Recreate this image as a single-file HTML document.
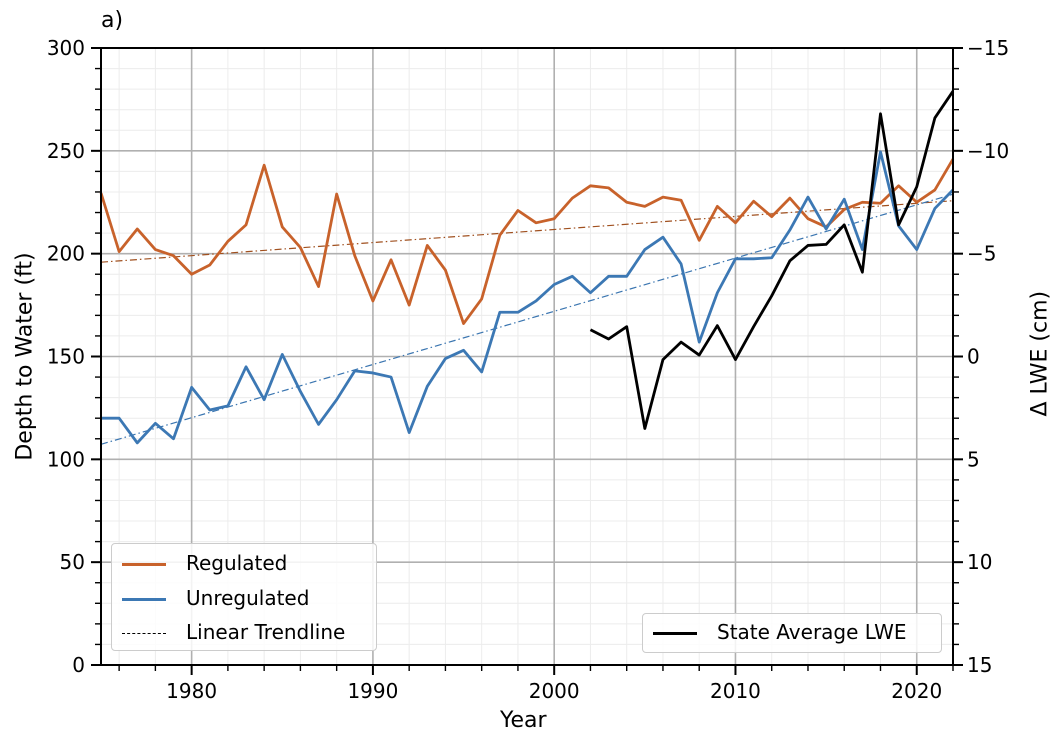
<!DOCTYPE html>
<html><head><meta charset="utf-8"><style>
body{margin:0;background:#fff;font-family:"DejaVu Sans","Liberation Sans",sans-serif}
svg text{font-family:"DejaVu Sans","Liberation Sans",sans-serif;fill:#000}
</style></head><body>
<svg id="chart" width="1058" height="745" xmlns="http://www.w3.org/2000/svg"></svg>
<script>
const years=[];for(let y=1975;y<=2022;y++)years.push(y);
const regulated=[229.5,201,212,202,199,190,194.5,206,214,243,213,203,184,229,199,177,197,175,204,192,166,178,209,221,215,217,227,233,232,225,223,227.5,226,206.5,223,215,225.5,218,227,217,213,221.5,225,224.5,233,225,231,246];
const unregulated=[120,120,108,117.5,110,135,124,126,145,129,151,133,117,129,143,142,140,113,135.5,149,153,142.5,171.5,171.5,177,185,189,181,189,189,202,208,195,157,181,197.5,197.5,198,211.5,227.5,212,226.5,202,249.5,213.5,202,222,231];
const lweYears=[2002,2003,2004,2005,2006,2007,2008,2009,2010,2011,2012,2013,2014,2015,2016,2017,2018,2019,2020,2021,2022];
const lwe=[-1.3,-0.85,-1.45,3.5,0.15,-0.7,-0.07,-1.5,0.15,-1.45,-2.95,-4.65,-5.4,-5.45,-6.4,-4.1,-11.8,-6.4,-8.25,-11.6,-12.9];
const xTicks=[1980,1990,2000,2010,2020];
const yTicks=[0,50,100,150,200,250,300];
const rTicks=[-15,-10,-5,0,5,10,15];

const L=101,R=953,T=48,B=665;
const X=v=>L+(v-1975)/(2022-1975)*(R-L);
const Y=v=>B-v/300*(B-T);
const YR=v=>T+(v+15)/30*(B-T);
const svg=document.getElementById('chart');const NS='http://www.w3.org/2000/svg';
function el(t,a,p){const e=document.createElementNS(NS,t);for(const k in a)e.setAttribute(k,a[k]);(p||svg).appendChild(e);return e;}
function txt(s,a){const e=el('text',a);e.textContent=s;return e;}
for(let y=1976;y<2022;y+=2){if(y%10)el('line',{x1:X(y),x2:X(y),y1:T,y2:B,stroke:'#ececec','stroke-width':1});}
for(let v=10;v<300;v+=10){if(v%50)el('line',{x1:L,x2:R,y1:Y(v),y2:Y(v),stroke:'#ececec','stroke-width':1});}
xTicks.forEach(v=>el('line',{x1:X(v),x2:X(v),y1:T,y2:B,stroke:'#b0b0b0','stroke-width':1.6}));
yTicks.forEach(v=>el('line',{x1:L,x2:R,y1:Y(v),y2:Y(v),stroke:'#b0b0b0','stroke-width':1.6}));
function fit(xs,ys){const n=xs.length;let mx=0,my=0;xs.forEach((x,i)=>{mx+=x;my+=ys[i]});mx/=n;my/=n;let sxy=0,sxx=0;xs.forEach((x,i)=>{sxy+=(x-mx)*(ys[i]-my);sxx+=(x-mx)**2});const b=sxy/sxx;return x=>my+b*(x-mx);}
const fr=fit(years,regulated),fu=fit(years,unregulated);
const t1=el('line',{x1:X(1975),x2:X(2022),y1:Y(fr(1975)-2),y2:Y(fr(2022)-2),stroke:'#a0501f','stroke-width':1.2,'stroke-dasharray':'7 3 1.5 3'});

const t2=el('line',{x1:X(1975),x2:X(2022),y1:Y(fu(1975)),y2:Y(fu(2022)),stroke:'#3a75b0','stroke-width':1.2,'stroke-dasharray':'7 3 1.5 3'});

function poly(xs,ys,fx,fy,c,name){const p=el('polyline',{points:xs.map((x,i)=>fx(x)+','+fy(ys[i])).join(' '),fill:'none',stroke:c,'stroke-width':2.8,'stroke-linejoin':'round'});
}
poly(years,regulated,X,Y,'#c8622b','regulated-line');
poly(years,unregulated,X,Y,'#3c78b4','unregulated-line');
poly(lweYears,lwe,X,YR,'#000','state-average-lwe-line');
el('rect',{x:L,y:T,width:R-L,height:B-T,fill:'none',stroke:'#000','stroke-width':2});
xTicks.forEach(v=>{el('line',{x1:X(v),x2:X(v),y1:B,y2:B+10,stroke:'#000','stroke-width':2});txt(v,{x:X(v),y:B+33,'font-size':20,'text-anchor':'middle'});});
for(let y=1976;y<=2022;y+=2){if(y%10)el('line',{x1:X(y),x2:X(y),y1:B,y2:B+6,stroke:'#000','stroke-width':1.4});}
yTicks.forEach(v=>{el('line',{x1:L-10,x2:L,y1:Y(v),y2:Y(v),stroke:'#000','stroke-width':2});txt(v,{x:L-16,y:Y(v)+7,'font-size':20,'text-anchor':'end'});});
for(let v=10;v<300;v+=10){if(v%50)el('line',{x1:L-6,x2:L,y1:Y(v),y2:Y(v),stroke:'#000','stroke-width':1.4});}
rTicks.forEach(v=>{el('line',{x1:R,x2:R+10,y1:YR(v),y2:YR(v),stroke:'#000','stroke-width':2});txt(v<0?'\u2212'+(-v):v,{x:R+14,y:YR(v)+7,'font-size':20});});
for(let v=-14;v<15;v++){if(v%5)el('line',{x1:R,x2:R+6,y1:YR(v),y2:YR(v),stroke:'#000','stroke-width':1.4});}
</script>
<div style="position:absolute;left:0;top:0;width:1058px;height:745px;pointer-events:none">
<div style="position:absolute;left:101px;top:8px;font-size:22px">a)</div>
<div style="position:absolute;left:500px;top:708px;font-size:22px">Year</div>
<div style="position:absolute;left:-85px;top:344px;width:220px;text-align:center;font-size:22px;white-space:nowrap;transform:rotate(-90deg)">Depth to Water (ft)</div>
<div style="position:absolute;left:980px;top:344px;width:120px;text-align:center;font-size:22px;white-space:nowrap;transform:rotate(-90deg)">Δ LWE (cm)</div>
<div style="position:absolute;left:111px;top:543px;width:264px;height:106px;border:1px solid #ccc;border-radius:4px;background:rgba(255,255,255,.85);font-size:20px">
 <div style="position:absolute;left:10px;top:7px;white-space:nowrap"><span style="display:inline-block;width:44px;height:3px;background:#c8622b;vertical-align:middle;margin-right:20px"></span>Regulated</div>
 <div style="position:absolute;left:10px;top:42px;white-space:nowrap"><span style="display:inline-block;width:44px;height:3px;background:#3c78b4;vertical-align:middle;margin-right:20px"></span>Unregulated</div>
 <div style="position:absolute;left:10px;top:76px;white-space:nowrap"><span style="display:inline-block;width:44px;border-top:1px dashed #000;vertical-align:middle;margin-right:20px"></span>Linear Trendline</div>
</div>
<div style="position:absolute;left:642px;top:613px;width:298px;height:38px;border:1px solid #ccc;border-radius:4px;background:rgba(255,255,255,.85);font-size:20px">
 <div style="position:absolute;left:10px;top:6px;white-space:nowrap"><span style="display:inline-block;width:44px;height:3px;background:#000;vertical-align:middle;margin-right:20px"></span>State Average LWE</div>
</div>
</div>
</body></html>
